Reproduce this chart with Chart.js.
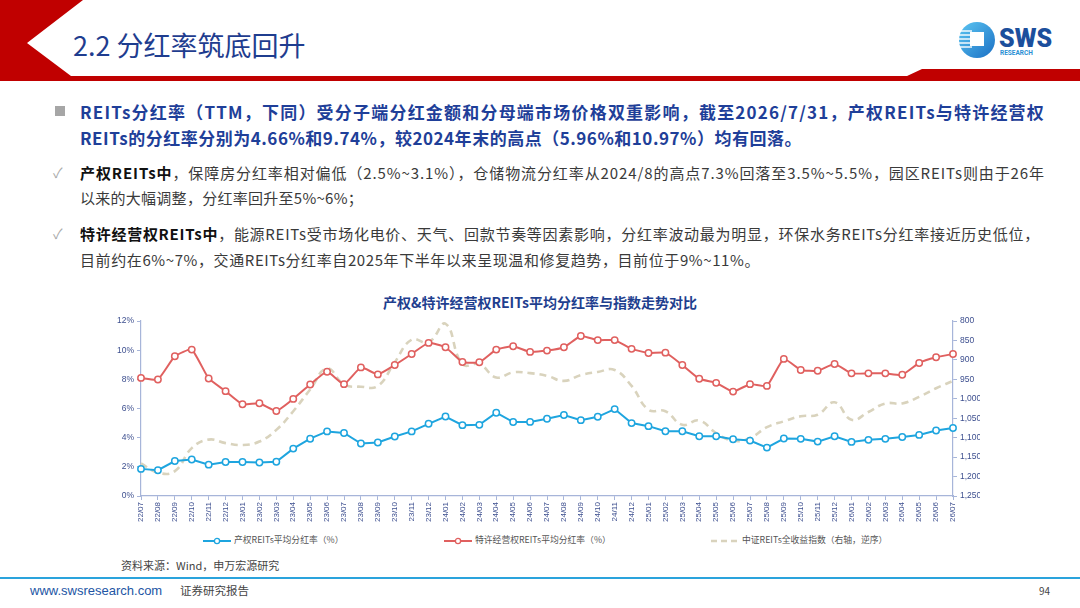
<!DOCTYPE html>
<html>
<head>
<meta charset="utf-8">
<script src="https://cdn.jsdelivr.net/npm/chart.js@4.4.1/dist/chart.umd.min.js"></script>
<style>
  body { margin: 0; width: 1080px; height: 608px; position: relative; overflow: hidden; background: #fff;
         font-family: "Noto Sans CJK SC", "Noto Sans", sans-serif; }
  .abs { position: absolute; white-space: nowrap; }
  .line { line-height: 24px; }
  .lead { font-size: 17px; font-weight: bold; color: #1f3f99; }
  .sub { font-size: 15px; color: #3a3a3a; }
  .sub b { color: #111; }
  .legend { font-size: 8.8px; color: #555; line-height: 12px; }
  .legend svg { vertical-align: middle; margin-right: 3px; }
</style>
</head>
<body>

<!-- header band -->
<svg class="abs" style="left:0;top:0" width="1080" height="90">
  <polygon points="0,0 83,0 27,43 71,76 907,76 922,69 1080,69 1080,81 0,81" fill="#c00000"/>
  <defs>
    <linearGradient id="lg" x1="0" y1="0" x2="1" y2="1">
      <stop offset="0" stop-color="#5cc6f2"/>
      <stop offset="1" stop-color="#1a6fc4"/>
    </linearGradient>
  </defs>
  <circle cx="977" cy="40" r="18" fill="url(#lg)"/>
  <g stroke="#fff" stroke-width="1.4">
    <line x1="958" y1="31" x2="972" y2="31"/>
    <line x1="958" y1="35" x2="972" y2="35"/>
    <line x1="958" y1="39" x2="972" y2="39"/>
    <line x1="958" y1="43" x2="972" y2="43"/>
    <line x1="958" y1="47" x2="972" y2="47"/>
  </g>
  <rect x="970" y="32" width="14" height="14" fill="#fff"/>
  <text x="999" y="47" font-family="Roboto, sans-serif" font-weight="900" font-size="25" fill="#1c4f9c">SWS</text>
  <text x="1000" y="55" font-family="Roboto, sans-serif" font-weight="bold" font-size="6.5" fill="#2a8fd4">RESEARCH</text>
</svg>
<div class="abs" style="left:73px;top:27px;font-size:27px;color:#1f3d8f;line-height:36px">2.2 分红率筑底回升</div>

<!-- bullets -->
<div class="abs" style="left:55px;top:106px;width:10px;height:10px;background:#a6a6a6"></div>
<div class="abs line lead" data-w="965" style="left:80px;top:100px">REITs分红率（TTM，下同）受分子端分红金额和分母端市场价格双重影响，截至2026/7/31，产权REITs与特许经营权</div>
<div class="abs line lead" data-w="722" style="left:80px;top:126px">REITs的分红率分别为4.66%和9.74%，较2024年末的高点（5.96%和10.97%）均有回落。</div>

<div class="abs" style="left:53px;top:162px;font-size:14px;color:#aaa">✓</div>
<div class="abs line sub" data-w="965" style="left:80px;top:161px"><b>产权REITs中</b>，保障房分红率相对偏低（2.5%~3.1%），仓储物流分红率从2024/8的高点7.3%回落至3.5%~5.5%，园区REITs则由于26年</div>
<div class="abs line sub" data-w="283" style="left:80px;top:186px">以来的大幅调整，分红率回升至5%~6%；</div>

<div class="abs" style="left:53px;top:223px;font-size:14px;color:#aaa">✓</div>
<div class="abs line sub" data-w="960" style="left:80px;top:222px"><b>特许经营权REITs中</b>，能源REITs受市场化电价、天气、回款节奏等因素影响，分红率波动最为明显，环保水务REITs分红率接近历史低位，</div>
<div class="abs line sub" data-w="680" style="left:80px;top:248px">目前约在6%~7%，交通REITs分红率自2025年下半年以来呈现温和修复趋势，目前位于9%~11%。</div>

<!-- chart -->
<div class="abs" style="left:0;width:1080px;top:292px;text-align:center;font-size:14px;font-weight:bold;color:#1f3f8f;line-height:20px">产权&amp;特许经营权REITs平均分红率与指数走势对比</div>
<div class="abs" style="left:100px;top:308px;width:880px;height:222px;overflow:hidden">
  <div style="position:relative;width:925px;height:222px"><canvas id="chart"></canvas></div>
</div>

<div class="abs legend" style="left:203px;top:534px">
  <svg width="28" height="8"><line x1="0" y1="4" x2="28" y2="4" stroke="#1ea5df" stroke-width="2"/><circle cx="14" cy="4" r="2.6" fill="#fff" stroke="#1ea5df" stroke-width="1.3"/></svg>产权REITs平均分红率（%）
</div>
<div class="abs legend" style="left:444px;top:534px">
  <svg width="28" height="8"><line x1="0" y1="4" x2="28" y2="4" stroke="#e0605f" stroke-width="2"/><circle cx="14" cy="4" r="2.6" fill="#fff" stroke="#e0605f" stroke-width="1.3"/></svg>特许经营权REITs平均分红率（%）
</div>
<div class="abs legend" style="left:711px;top:534px">
  <svg width="28" height="8"><line x1="0" y1="4" x2="28" y2="4" stroke="#d9d3bd" stroke-width="2.5" stroke-dasharray="6,4"/></svg>中证REITs全收益指数（右轴，逆序）
</div>

<div class="abs" style="left:121px;top:557px;font-size:11px;color:#444;line-height:16px">资料来源：Wind，申万宏源研究</div>

<!-- footer -->
<div class="abs" style="left:0;top:577px;width:1080px;height:2px;background:#2aa3dc"></div>
<div class="abs" style="left:30px;top:582px;font-family:'Liberation Sans',Arial,sans-serif;font-size:13px;color:#2255a4;line-height:18px">www.swsresearch.com</div>
<div class="abs" style="left:180px;top:581px;font-size:11.5px;color:#444;line-height:18px">证券研究报告</div>
<div class="abs" style="left:1039px;top:583px;font-size:10px;color:#444;line-height:16px">94</div>

<script>
const months = [
  '22/07','22/08','22/09','22/10','22/11','22/12',
  '23/01','23/02','23/03','23/04','23/05','23/06','23/07','23/08','23/09','23/10','23/11','23/12',
  '24/01','24/02','24/03','24/04','24/05','24/06','24/07','24/08','24/09','24/10','24/11','24/12',
  '25/01','25/02','25/03','25/04','25/05','25/06','25/07','25/08','25/09','25/10','25/11','25/12',
  '26/01','26/02','26/03','26/04','26/05','26/06','26/07'
];

// 产权REITs平均分红率（%）
const propertyYield = [
  1.86, 1.77, 2.40, 2.50, 2.15, 2.33,
  2.33, 2.30, 2.35, 3.25, 3.93, 4.43, 4.32, 3.60, 3.67, 4.08, 4.43, 4.95,
  5.45, 4.86, 4.88, 5.71, 5.07, 5.08, 5.30, 5.55, 5.20, 5.43, 5.96, 5.00,
  4.79, 4.44, 4.44, 4.10, 4.10, 3.89, 3.80, 3.32, 3.94, 3.92, 3.73, 4.10,
  3.71, 3.85, 3.92, 4.05, 4.19, 4.49, 4.66
];

// 特许经营权REITs平均分红率（%）
const franchiseYield = [
  8.10, 7.99, 9.58, 10.04, 8.06, 7.19,
  6.29, 6.36, 5.83, 6.66, 7.65, 8.52, 7.67, 8.82, 8.34, 8.98, 9.74, 10.50,
  10.20, 9.19, 9.17, 10.04, 10.27, 9.88, 9.97, 10.20, 10.97, 10.69, 10.69, 10.09,
  9.81, 9.83, 8.98, 8.04, 7.76, 7.16, 7.67, 7.55, 9.40, 8.64, 8.59, 9.05,
  8.41, 8.41, 8.41, 8.31, 9.12, 9.51, 9.74
];

// 中证REITs全收益指数（右轴，逆序）
const reitsIndex = [
  1166, 1190, 1186, 1127, 1105, 1114,
  1119, 1110, 1080, 1032, 976, 922, 963, 969, 967, 906, 848, 855,
  807, 911, 911, 945, 932, 934, 941, 954, 939, 931, 926, 967,
  1028, 1032, 1067, 1056, 1088, 1108, 1101, 1073, 1058, 1045, 1041, 1009,
  1054, 1034, 1012, 1012, 995, 973, 954
];

const leftTicks = { min: 0, max: 12, step: 2 };
const rightTicks = { min: 800, max: 1250, step: 50 };

const axisColor = '#a7b5d9';
const tickColor = '#3d4f8f';

function yieldDataset(label, values, color, tension)
{
    return {
        label: label,
        data: values,
        yAxisID: 'y',
        borderColor: color,
        backgroundColor: '#fff',
        borderWidth: 2,
        pointRadius: 3.2,
        pointBorderWidth: 1.5,
        pointBackgroundColor: '#fff',
        pointBorderColor: color,
        tension: tension
    };
}

function axisGrid()
{
    return { display: true, drawOnChartArea: false, drawTicks: true, tickLength: 4, color: axisColor };
}

new Chart(document.getElementById('chart'), {
    type: 'line',
    data: {
        labels: months,
        datasets: [
            yieldDataset('产权REITs平均分红率（%）', propertyYield, '#1ea5df', 0),
            yieldDataset('特许经营权REITs平均分红率（%）', franchiseYield, '#e0605f', 0.15),
            {
                label: '中证REITs全收益指数（右轴，逆序）',
                data: reitsIndex,
                yAxisID: 'y2',
                borderColor: '#d9d3bd',
                borderWidth: 2.6,
                borderDash: [7, 5],
                pointRadius: 0,
                tension: 0.45
            }
        ]
    },
    options: {
        responsive: true,
        maintainAspectRatio: false,
        animation: false,
        layout: { padding: { top: 13, left: 0, right: 0, bottom: 0 } },
        plugins: { legend: { display: false }, tooltip: { enabled: false } },
        scales: {
            x: {
                offset: false,
                grid: axisGrid(),
                border: { color: axisColor, width: 1.2 },
                ticks: { autoSkip: false, maxRotation: 90, minRotation: 90, padding: 2,
                         color: tickColor, font: { size: 8, family: 'Liberation Sans' } },
                afterFit: s => { s.height = 34; }
            },
            y: {
                position: 'left',
                min: leftTicks.min, max: leftTicks.max,
                grid: axisGrid(),
                border: { color: axisColor, width: 1.2 },
                ticks: { stepSize: leftTicks.step, padding: 3, color: tickColor,
                         font: { size: 8.5, family: 'Liberation Sans' }, callback: v => v + '%' },
                afterFit: s => { s.width = 41; }
            },
            y2: {
                position: 'right',
                reverse: true,
                min: rightTicks.min, max: rightTicks.max,
                grid: axisGrid(),
                border: { color: axisColor, width: 1.2 },
                ticks: { stepSize: rightTicks.step, padding: 3, color: tickColor,
                         font: { size: 8.5, family: 'Liberation Sans' },
                         callback: v => v.toLocaleString('en-US') },
                afterFit: s => { s.width = 72; }
            }
        }
    }
});

// stretch text lines to the widths seen in the slide
document.querySelectorAll('[data-w]').forEach(el => {
    const target = +el.dataset.w;
    const n = el.textContent.length;
    const w = el.getBoundingClientRect().width;
    el.style.letterSpacing = ((target - w) / n).toFixed(3) + 'px';
});
</script>
</body>
</html>
